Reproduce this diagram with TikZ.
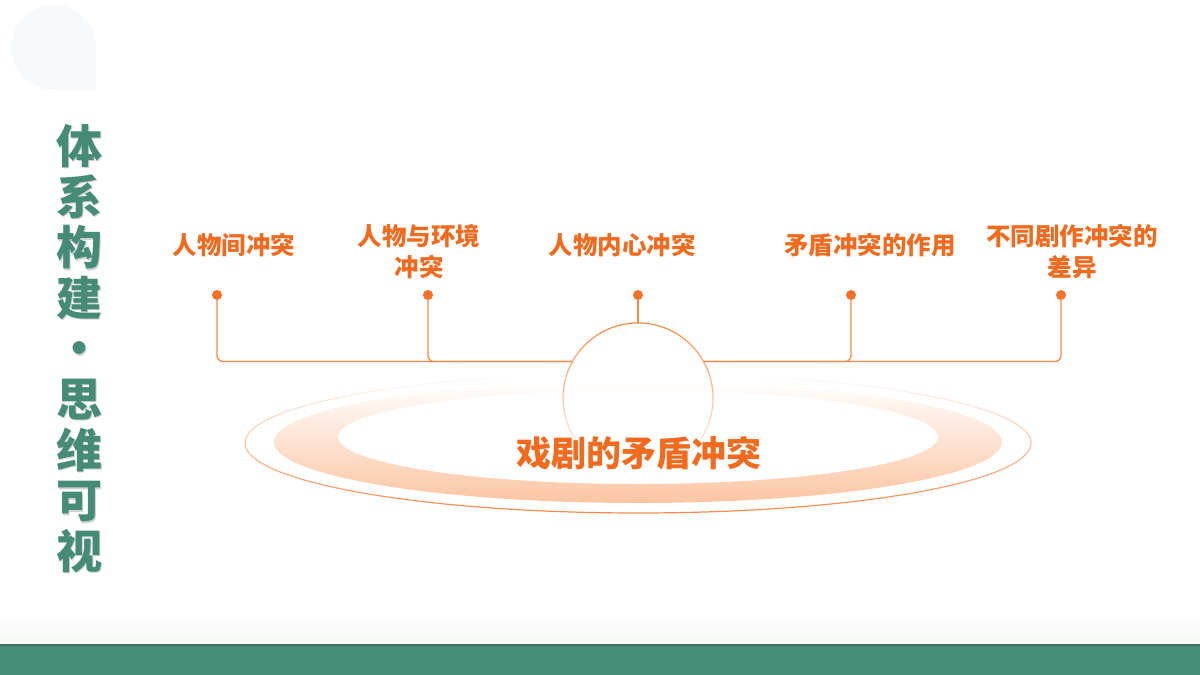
\documentclass[tikz,border=0pt]{standalone}
\usepackage{fontspec}
\newfontfamily\cjk{Noto Sans CJK SC}
\usetikzlibrary{fadings,positioning}

\definecolor{themegreen}{HTML}{468B78}
\definecolor{bargreen}{HTML}{468C79}
\definecolor{barline}{HTML}{3A6F60}
\definecolor{barfade}{HTML}{F5F8F3}
\definecolor{labelorange}{HTML}{F26A1E}
\definecolor{lineorange}{HTML}{F6894A}
\definecolor{dotorange}{HTML}{F37129}
\definecolor{ringpeach}{HTML}{FCC5A3}
\definecolor{paleblue}{HTML}{F5F9FC}

\tikzfading[name=fade down, top color=transparent!0, bottom color=transparent!100]
\tikzfading[name=fade up, top color=transparent!100, middle color=transparent!75, bottom color=transparent!0]

\tikzset{
  branchlabel/.style={text=labelorange, font=\cjk\bfseries\fontsize{24.5}{31}\selectfont, align=center, inner sep=0pt},
  branchdot/.style={circle, fill=dotorange, inner sep=0pt, minimum size=10pt},
  branchline/.style={draw=lineorange, line width=1.3pt, rounded corners=6pt},
  titletext/.style={font=\cjk\bfseries\fontsize{46}{50.6}\selectfont, align=center, inner sep=0pt},
}

\begin{document}
\begin{tikzpicture}[x=1pt, y=-1pt]
	\useasboundingbox (0,0) rectangle (1200,675);

	% Corner drop
	\fill[paleblue] (96,90) -- (53.5,90) arc[start angle=270, end angle=90, radius=42.5pt]
		arc[start angle=90, end angle=0, radius=42.5pt] -- cycle;

	% Bottom bar
	\shade[top color=white, bottom color=barfade] (0,612) rectangle (1200,645);
	\fill[bargreen] (0,645) rectangle (1200,675);
	\draw[barline, line width=1.5pt] (0,645) -- (1200,645);

	% Vertical title
	\node[titletext, text=black!45, opacity=0.4] at (80.5,350) {体\\系\\构\\建\\·\\思\\维\\可\\视};
	\node[titletext, text=themegreen] (title) at (79,348.5) {体\\系\\构\\建\\·\\思\\维\\可\\视};

	% Stage rings
	\path[even odd rule, top color=white, bottom color=ringpeach]
		(638,442) ellipse[x radius=364pt, y radius=61pt]
		(638,437) ellipse[x radius=300pt, y radius=47pt];
	\draw[lineorange, line width=1.2pt, path fading=fade up] (638,443) ellipse[x radius=393pt, y radius=70pt];

	% Hub circle
	\coordinate (hub) at (638,398);
	\node[circle, minimum size=150pt, inner sep=0pt] (hubring) at (hub) {};
	\draw[lineorange, line width=1.2pt, path fading=fade down] (hub) circle[radius=75pt];

	% Branch points
	\node[branchdot] (d1) at (217,295) {};
	\node[branchdot] (d2) at (428,295) {};
	\node[branchdot] (d3) at (638,295) {};
	\node[branchdot] (d4) at (851,295) {};
	\node[branchdot] (d5) at (1061,295) {};

	% Branch labels
	\node[branchlabel] (l1) at (234,245) {人物间冲突};
	\node[branchlabel] (l2) at (419,252) {人物与环境\\冲突};
	\node[branchlabel] (l3) at (622,245) {人物内心冲突};
	\node[branchlabel] (l4) at (870,245) {矛盾冲突的作用};
	\node[branchlabel] (l5) at (1072,252) {不同剧作冲突的\\差异};

	% Connectors
	\draw[branchline] (d1) |- (hubring.151);
	\draw[branchline] (d2) |- (hubring.151);
	\draw[branchline] (d3) -- (hubring.north);
	\draw[branchline] (d4) |- (hubring.29);
	\draw[branchline] (d5) |- (hubring.29);

	% Topic
	\node[text=labelorange, font=\cjk\bfseries\fontsize{35}{40}\selectfont] (topic) at (639,453) {戏剧的矛盾冲突};
\end{tikzpicture}
\end{document}
